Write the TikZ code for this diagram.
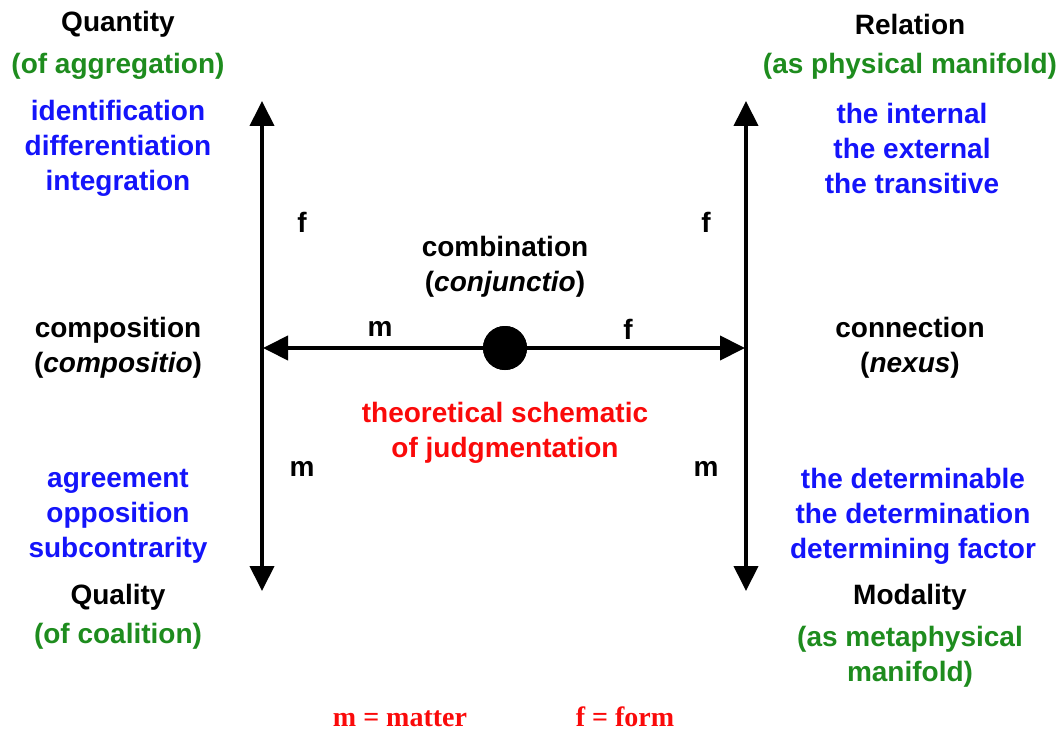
\documentclass[tikz,border=0pt]{standalone}
\usepackage{fontspec}
\setmainfont{Liberation Sans}
\newfontfamily\legendfont{Liberation Serif}
\usetikzlibrary{arrows.meta}
\definecolor{cgreen}{RGB}{30,140,30}
\definecolor{cblue}{RGB}{20,20,250}
\definecolor{cred}{RGB}{250,10,10}
\begin{document}
\begin{tikzpicture}[x=1pt,y=-1pt,
  lbl/.style={font=\fontsize{28}{35}\selectfont\bfseries, align=center, inner sep=0pt, anchor=center},
  head/.style={lbl, text=black},
  sub/.style={lbl, text=cgreen},
  item/.style={lbl, text=cblue},
  red/.style={lbl, text=cred},
  leg/.style={font=\fontsize{28}{30}\selectfont\legendfont\bfseries, text=cred, inner sep=0pt, anchor=base},
  axis/.style={line width=4pt, -{Triangle[length=25pt,width=24pt]}},
]
\useasboundingbox (0,0) rectangle (1064,730);
% coordinates
\coordinate (lt) at (262,101);
\coordinate (lb) at (262,591);
\coordinate (rt) at (746,101);
\coordinate (rb) at (746,591);
\coordinate (lm) at (262,348);
\coordinate (rm) at (746,348);
\coordinate (hl) at (263,348);
\coordinate (hr) at (745,348);
% vertical arrows
\draw[axis] (lm) -- (lt);
\draw[axis] (lm) -- (lb);
\draw[axis] (rm) -- (rt);
\draw[axis] (rm) -- (rb);
% center dot and horizontal arrows
\node[circle, fill=black, minimum size=44pt, inner sep=0pt] (dot) at (505,348) {};
\draw[axis] (dot.center) -- (hl);
\draw[axis] (dot.center) -- (hr);
\fill (dot.center) circle (22pt);
% left column
\node[head] (quant) at (118,24) {Quantity};
\node[sub] (quants) at (118,66) {(of aggregation)};
\node[item] (quanti) at (118,148) {identification\\differentiation\\integration};
\node[head] (comp) at (118,348) {composition\\(\textit{compositio})};
\node[item] (quali) at (118,516) {agreement\\opposition\\subcontrarity};
\node[head] (qual) at (118,597) {Quality};
\node[sub] (quals) at (118,636) {(of coalition)};
% right column
\node[head] (rel) at (910,24) {Relation};
\node[sub] (rels) at (910,66) {(as physical manifold)};
\node[item] (reli) at (912,148) {the internal\\the external\\the transitive};
\node[head] (conn) at (910,348) {connection\\(\textit{nexus})};
\node[item] (modi) at (913,516) {the determinable\\the determination\\determining factor};
\node[head] (mod) at (910,597) {Modality};
\node[sub] (mods) at (910,657) {(as metaphysical\\manifold)};
% center
\node[head] (combi) at (505,267) {combination\\(\textit{conjunctio})};
\node[red] (theo) at (505,433) {theoretical schematic\\of judgmentation};
% m / f labels
\node[head] (f1) at (302,222) {f};
\node[head] (f2) at (706,222) {f};
\node[head] (m1) at (380,329) {m};
\node[head] (f3) at (628,329) {f};
\node[head] (m2) at (302,469) {m};
\node[head] (m3) at (706,469) {m};
% legend
\node[leg] (legm) at (400,726) {m = matter};
\node[leg] (legf) at (625,726) {f = form};
\end{tikzpicture}
\end{document}
